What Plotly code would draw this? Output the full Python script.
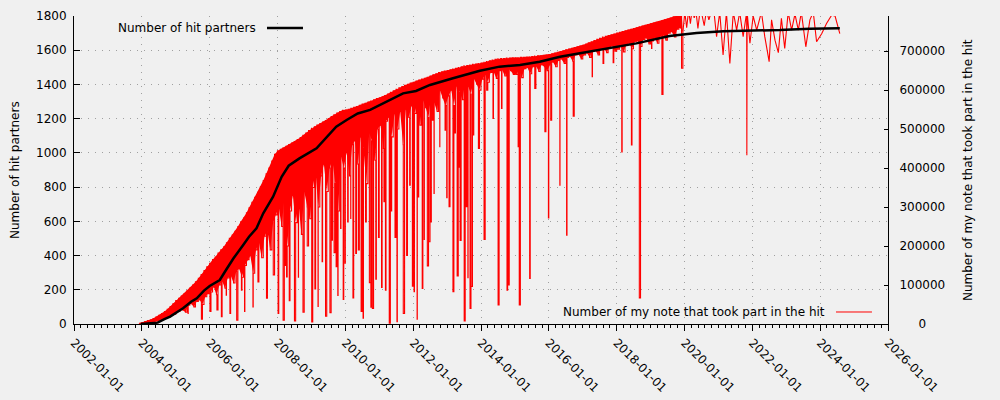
import pandas as pd
import plotly.graph_objects as go

# ---------------- data ----------------
# Black series: cumulative number of hit partners (left axis)
partner_dates = [
    "2003-12-20", "2004-03-01", "2004-06-20", "2004-09-01", "2004-11-01", "2005-03-20",
    "2005-06-15", "2005-08-15", "2005-11-01", "2006-01-01", "2006-04-20", "2006-07-01",
    "2006-09-15", "2007-01-01", "2007-03-01", "2007-05-20", "2007-08-01", "2007-11-15",
    "2008-02-15", "2008-05-01", "2008-08-25", "2009-02-25", "2009-06-15", "2009-09-25",
    "2010-01-15", "2010-05-15", "2010-09-25", "2011-03-20", "2011-09-15", "2012-02-01",
    "2012-07-01", "2013-03-05", "2013-12-20", "2014-07-20", "2015-02-25", "2015-09-25",
    "2016-05-01", "2016-12-01", "2017-08-07", "2018-08-01", "2019-07-25", "2020-05-10",
    "2021-02-20", "2021-12-05", "2022-10-25", "2023-09-10", "2024-07-31",
]
partner_values = [
    0, 2, 8, 28, 43, 92,
    130, 150, 195, 222, 257, 320,
    384, 465, 510, 559, 647, 744,
    860, 925, 968, 1027, 1090, 1153,
    1192, 1230, 1251, 1299, 1348, 1362,
    1397, 1436, 1480, 1504, 1514, 1533,
    1562, 1582, 1605, 1640, 1683, 1700,
    1711, 1714, 1718, 1726, 1729,
]

# Red series (right axis), in thousands of notes.
# Dense period 2003-12 .. 2019-12: value on the 1st (high) and the 15th (low) of every month
red_start, red_end = "2003-12-01", "2019-12-31"
red_high_k = [
    2,
    4, 6, 9, 11, 14, 18, 22, 27, 32, 38, 45, 52,                   # 2004
    60, 66, 72, 78, 85, 92, 100, 108, 117, 127, 137, 147,          # 2005
    156, 165, 172, 182, 190, 198, 208, 220, 228, 238, 250, 262,    # 2006
    272, 285, 298, 312, 325, 338, 352, 368, 385, 400, 418, 435,    # 2007
    444, 448, 452, 456, 460, 464, 468, 473, 478, 484, 490, 496,    # 2008
    502, 506, 510, 514, 518, 522, 527, 532, 537, 541, 545, 548,    # 2009
    549, 551, 553, 556, 558, 561, 564, 566, 569, 572, 575, 578,    # 2010
    580, 583, 586, 590, 594, 598, 602, 606, 609, 612, 615, 618,    # 2011
    620, 623, 626, 628, 630, 633, 636, 639, 642, 645, 647, 649,    # 2012
    650, 652, 654, 656, 658, 660, 662, 663, 664, 666, 667, 668,    # 2013
    669, 671, 673, 675, 677, 679, 680, 681, 681, 682, 682, 683,    # 2014
    683, 683, 684, 684, 685, 685, 686, 687, 688, 688, 689, 690,    # 2015
    691, 693, 695, 697, 699, 701, 703, 705, 707, 709, 711, 713,    # 2016
    715, 718, 721, 724, 727, 730, 733, 736, 738, 740, 742, 744,    # 2017
    746, 748, 750, 752, 754, 756, 758, 760, 762, 764, 766, 768,    # 2018
    770, 772, 774, 776, 778, 780, 782, 785, 788, 790, 795, 800,    # 2019
]
red_low_k = [
    0,
    0, 1, 2, 4, 5, 8, 10, 12, 15, 18, 22, 25,                      # 2004
    32, 40, 36, 30, 48, 52, 44, 58, 62, 50, 70, 78,                # 2005
    82, 95, 75, 100, 110, 92, 118, 125, 105, 135, 142, 120,        # 2006
    150, 165, 175, 130, 190, 210, 170, 225, 240, 190, 260, 280,    # 2007
    300, 250, 320, 200, 290, 330, 260, 310, 230, 340, 300, 270,    # 2008
    350, 390, 300, 380, 410, 340, 400, 420, 360, 290, 430, 400,    # 2009
    440, 380, 460, 470, 410, 480, 450, 360, 490, 470, 420, 500,    # 2010
    510, 450, 520, 530, 480, 540, 500, 545, 460, 550, 530, 560,    # 2011
    540, 565, 510, 575, 555, 530, 590, 570, 545, 600, 580, 560,    # 2012
    585, 600, 560, 610, 595, 575, 620, 610, 590, 630, 615, 600,    # 2013
    628, 640, 620, 645, 648, 630, 650, 652, 636, 655, 650, 640,    # 2014
    640, 652, 632, 655, 658, 642, 660, 662, 648, 665, 660, 650,    # 2015
    665, 672, 660, 676, 680, 668, 684, 686, 674, 690, 692, 680,    # 2016
    690, 695, 684, 700, 702, 690, 706, 708, 696, 712, 714, 700,    # 2017
    705, 712, 698, 716, 720, 706, 724, 726, 712, 730, 734, 718,    # 2018
    726, 734, 720, 738, 742, 728, 746, 750, 736, 756, 760, 748,    # 2019
]

# Individual dips of the red series (date, thousands)
dip_dates = [
    "2005-02-13", "2005-05-13", "2005-07-08", "2005-10-04", "2006-01-04", "2006-03-20",
    "2006-05-07", "2006-06-28", "2006-08-07", "2006-10-19", "2006-12-09", "2007-01-12",
    "2007-04-12", "2007-06-05", "2007-09-05", "2007-11-17", "2008-01-08", "2008-03-02",
    "2008-03-24", "2008-04-08", "2008-05-07", "2008-07-02", "2008-08-13", "2008-10-02",
    "2008-11-17", "2009-01-04", "2009-02-07", "2009-03-13", "2009-04-26", "2009-06-02",
    "2009-07-19", "2009-08-07", "2009-09-02", "2009-09-24", "2009-10-12", "2009-11-11",
    "2009-12-09", "2009-12-28", "2010-01-26", "2010-02-28", "2010-03-24", "2010-04-23",
    "2010-05-21", "2010-06-20", "2010-07-11", "2010-08-07", "2010-09-17", "2010-10-03",
    "2010-10-19", "2010-11-25", "2010-12-24", "2011-01-26", "2011-02-21", "2011-03-09",
    "2011-04-19", "2011-05-07", "2011-06-20", "2011-07-11", "2011-09-17", "2011-10-23",
    "2011-11-25", "2011-12-24", "2012-01-11", "2012-02-13", "2012-02-25", "2012-04-08",
    "2012-04-29", "2012-06-02", "2012-06-17", "2012-07-08", "2012-07-20", "2012-08-13",
    "2012-10-14", "2012-12-10", "2012-12-28", "2013-01-22", "2013-03-05", "2013-03-24",
    "2013-04-19", "2013-05-03", "2013-05-21", "2013-07-04", "2013-07-22", "2013-08-13",
    "2013-09-05", "2013-09-17", "2013-10-08", "2013-12-04", "2014-02-03", "2014-03-03",
    "2014-05-10", "2014-07-04", "2014-08-10", "2014-10-08", "2014-10-26", "2015-02-05",
    "2015-02-17", "2015-06-09", "2015-08-03", "2015-11-20", "2015-12-28", "2016-01-22",
    "2016-04-29", "2016-07-11", "2016-09-20", "2017-04-12", "2017-08-07", "2017-11-24",
    "2018-02-25", "2018-06-09", "2018-09-02", "2019-01-12", "2019-05-03", "2019-12-01",
]
dip_values_k = [
    32, 27, 49, 12, 32, 36,
    19, 74, 27, 10, 87, 32,
    44, 108, 66, 126, 27, 10,
    150, 121, 60, 8, 120, 30,
    200, 5, 90, 45, 160, 20,
    29, 215, 183, 147, 73, 245,
    63, 156, 262, 271, 67, 181,
    190, 32, 15, 262, 106, 43,
    40, 115, 222, 94, 314, 87,
    2, 290, 222, 6, 27, 176,
    356, 97, 83, 12, 326, 91,
    217, 149, 211, 262, 523, 335,
    455, 497, 324, 301, 83, 490,
    123, 402, 214, 8, 301, 119,
    40, 96, 485, 450, 217, 600,
    527, 49, 553, 87, 100, 455,
    49, 117, 604, 493, 272, 523,
    356, 228, 533, 634, 668, 670,
    441, 459, 67, 707, 589, 656,
]

# Sparser period 2020 .. 2024 (date, thousands)
late_dates = [
    "2020-01-05", "2020-01-25", "2020-02-15", "2020-03-05", "2020-03-25", "2020-04-15",
    "2020-05-05", "2020-05-25", "2020-06-15", "2020-07-10", "2020-08-01", "2020-08-25",
    "2020-09-20", "2020-10-15", "2020-11-10", "2020-12-12", "2021-01-15", "2021-02-20",
    "2021-03-28", "2021-05-04", "2021-06-10", "2021-07-16", "2021-08-18", "2021-09-24",
    "2021-11-01", "2021-11-03", "2021-11-06", "2021-12-06", "2022-01-10", "2022-02-17",
    "2022-04-09", "2022-05-15", "2022-07-01", "2022-07-27", "2022-09-02", "2022-10-08",
    "2022-11-10", "2022-12-16", "2023-01-22", "2023-02-28", "2023-04-05", "2023-05-11",
    "2023-06-13", "2023-07-31", "2023-09-13", "2023-10-19", "2023-11-24", "2024-01-19",
    "2024-03-10", "2024-05-04", "2024-06-10", "2024-07-31",
]
late_values_k = [
    800, 760, 805, 770, 810, 785,
    800, 758, 800, 790, 765, 805,
    780, 800, 810, 737, 800, 690,
    800, 668, 800, 754, 800, 737,
    800, 433, 800, 720, 790, 754,
    800, 737, 673, 780, 728, 696,
    784, 707, 800, 754, 795, 754,
    800, 711, 780, 800, 724, 745,
    771, 792, 790, 745,
]

right_ticks = [0, 100000, 200000, 300000, 400000, 500000, 600000, 700000]
left_ticks = [0, 200, 400, 600, 800, 1000, 1200, 1400, 1600, 1800]

left_title = "Number of hit partners"
right_title = "Number of my note that took part in the hit"

# ---------------- build red series ----------------
dense_dates = pd.date_range(red_start, red_end, freq="SMS")
high_dates, low_dates = dense_dates[0::2], dense_dates[1::2]
dense_vals = []
for h, l in zip(red_high_k, red_low_k):
    dense_vals += [h, l]

dense = pd.DataFrame({
    "d": list(dense_dates) + list(pd.to_datetime(dip_dates)),
    "v": dense_vals + dip_values_k,
}).sort_values("d", kind="stable")
late = pd.DataFrame({"d": pd.to_datetime(late_dates), "v": late_values_k})
late = pd.concat([dense.tail(1), late])

BG = "#f0f0f0"
GRID = "#a0a0a0"
FONT = "DejaVu Sans"
RED = "#ff0000"

fig = go.Figure()
# body of the rapidly oscillating red series (between its monthly highs and lows)
fig.add_trace(go.Scatter(
    x=high_dates, y=[v * 1000 for v in red_high_k], mode="lines", yaxis="y",
    line=dict(color=RED, width=0), showlegend=False, hoverinfo="skip",
))
fig.add_trace(go.Scatter(
    x=low_dates, y=[v * 1000 for v in red_low_k], mode="lines", yaxis="y",
    line=dict(color=RED, width=0), fill="tonexty", fillcolor=RED,
    showlegend=False, hoverinfo="skip",
))
# the red line itself
fig.add_trace(go.Scatter(
    x=dense["d"], y=dense["v"] * 1000, mode="lines", yaxis="y",
    line=dict(color=RED, width=1.1, shape="hv", simplify=False), showlegend=False,
))
fig.add_trace(go.Scatter(
    x=late["d"], y=late["v"] * 1000, mode="lines", yaxis="y",
    line=dict(color=RED, width=1.1, simplify=False), showlegend=False,
))
fig.add_trace(go.Scatter(
    x=pd.to_datetime(partner_dates), y=partner_values, mode="lines", yaxis="y2",
    line=dict(color="#000000", width=2.5), showlegend=False,
))

right_text = ["\u00a0" * (len(str(right_ticks[-1])) - len(str(v))) + str(v) for v in right_ticks]

fig.update_layout(
    width=1000, height=400,
    margin=dict(l=74, r=112, t=16, b=76),
    paper_bgcolor=BG, plot_bgcolor=BG,
    font=dict(family=FONT, size=12, color="#000000"),
    xaxis=dict(
        type="date", range=["2002-01-01", "2026-01-01"], automargin=False,
        tick0="2002-01-01", dtick="M24", tickformat="%Y-%m-%d", tickangle=45,
        ticks="outside", ticklen=6, tickcolor="#000000",
        showline=True, linecolor="#000000", linewidth=1,
        showgrid=True, gridcolor=GRID, griddash="1px,6px", gridwidth=1,
        zeroline=False,
        minor=dict(ticks="outside", ticklen=3, tickcolor="#000000",
                   tick0="2002-01-01", dtick=6311520000, showgrid=False),
    ),
    yaxis=dict(
        side="right", range=[0, 790000], automargin=False,
        tickvals=right_ticks, ticktext=right_text,
        ticks="inside", ticklen=4, tickcolor="#000000",
        showline=True, linecolor="#000000", linewidth=1,
        showgrid=False, zeroline=False, ticklabelstandoff=8,
    ),
    yaxis2=dict(
        side="left", overlaying="y", range=[0, 1800], automargin=False,
        tickvals=left_ticks,
        ticks="inside", ticklen=6, tickcolor="#000000",
        showline=True, linecolor="#000000", linewidth=1,
        showgrid=True, gridcolor=GRID, griddash="1px,6px", gridwidth=1,
        zeroline=False, ticklabelstandoff=4,
    ),
    annotations=[
        dict(text=left_title, xref="paper", yref="paper", x=-0.0725, y=0.5,
             textangle=-90, showarrow=False, xanchor="center", yanchor="middle"),
        dict(text=right_title, xref="paper", yref="paper", x=1.0983, y=0.5,
             textangle=-90, showarrow=False, xanchor="center", yanchor="middle"),
        dict(text="Number of hit partners", xref="paper", yref="paper", x=0.2260, y=0.961,
             showarrow=False, xanchor="right", yanchor="middle"),
        dict(text="Number of my note that took part in the hit", xref="paper", yref="paper",
             x=0.9251, y=0.039, showarrow=False, xanchor="right", yanchor="middle"),
    ],
    shapes=[
        dict(type="line", xref="paper", yref="paper", x0=0.2371, x1=0.2813, y0=0.961, y1=0.961,
             line=dict(color="#000000", width=2.5)),
        dict(type="line", xref="paper", yref="paper", x0=0.9361, x1=0.9803, y0=0.039, y1=0.039,
             line=dict(color=RED, width=1)),
    ],
)

fig.write_html("out.html")
